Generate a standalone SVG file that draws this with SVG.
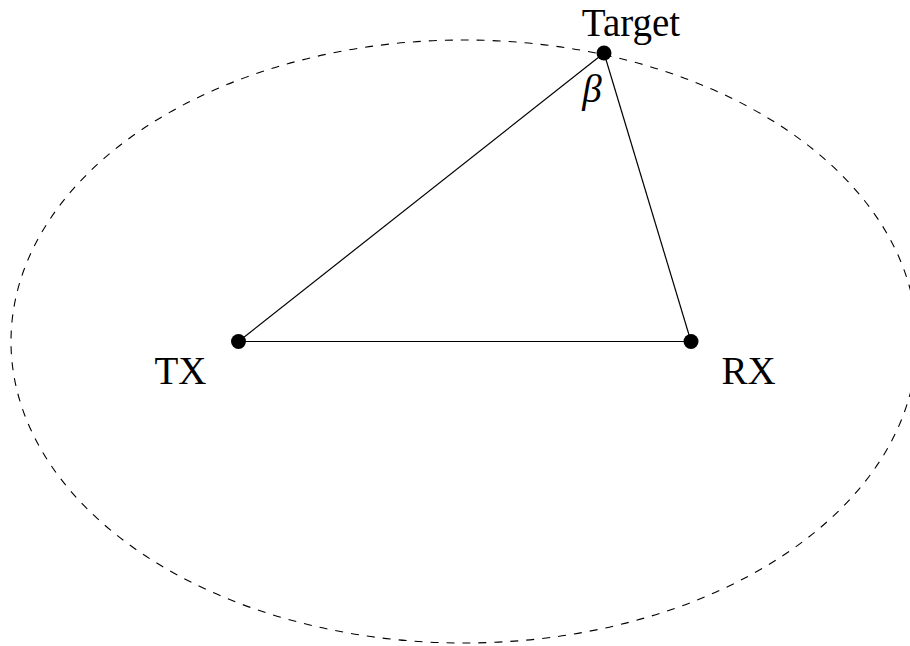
<svg xmlns="http://www.w3.org/2000/svg" width="910" height="646" viewBox="0 0 910 646">
<style>
.lbl{font-family:"Liberation Serif","DejaVu Serif",serif;font-size:39px;fill:#000}
.edge{stroke:#000;stroke-width:1.2;fill:none}
.dot{fill:#000}
</style>
<rect width="910" height="646" fill="#fff"/>
<ellipse cx="464" cy="341.5" rx="453" ry="301.5" fill="none" stroke="#000" stroke-width="1.1" stroke-dasharray="8 8"/>
<g id="connectors">
<line class="edge" x1="238.5" y1="341.5" x2="604" y2="53"/>
<line class="edge" x1="604" y1="53" x2="691" y2="341.5"/>
<line class="edge" x1="238.5" y1="341.5" x2="691" y2="341.5"/>
</g>
<g id="tx">
<circle class="dot" cx="238.5" cy="341.5" r="7.5"/>
<text class="lbl" x="180.5" y="384" text-anchor="middle">TX</text>
</g>
<g id="rx">
<circle class="dot" cx="691" cy="341.5" r="7.5"/>
<text class="lbl" x="748.5" y="384" text-anchor="middle">RX</text>
</g>
<g id="target">
<circle class="dot" cx="604" cy="53" r="7.5"/>
<text class="lbl" x="631" y="36" text-anchor="middle">Target</text>
<text class="lbl" x="592" y="102" text-anchor="middle" font-style="italic" font-size="46">β</text>
</g>
</svg>
